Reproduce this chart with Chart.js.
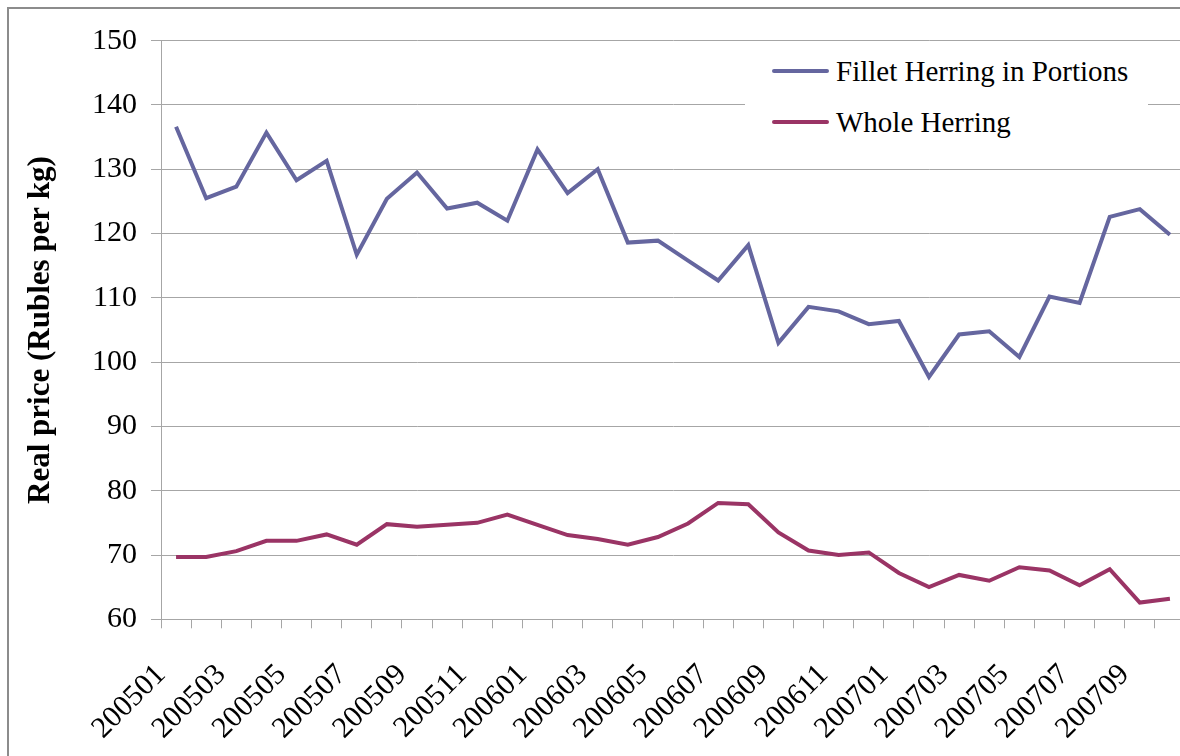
<!DOCTYPE html>
<html>
<head>
<meta charset="utf-8">
<script src="https://cdn.jsdelivr.net/npm/chart.js@4.4.0/dist/chart.umd.min.js"></script>
<style>
  html, body { margin: 0; padding: 0; overflow: hidden; background: #fff; }
  #frame { position: absolute; left: 7px; top: 7px; width: 1300px; height: 900px;
           border-left: 2px solid #8c8c8c; border-top: 2px solid #8c8c8c; }
  #box { position: absolute; left: 0; top: 0; width: 1200px; height: 756px; }
  #legend { position: absolute; left: 745px; top: 44px; width: 403px; height: 106px; background: #fff; }
  .item { position: absolute; left: 0; height: 34px; font: 29px "Liberation Serif", "Times New Roman", serif; color: #000; }
  .item .swatch { position: absolute; left: 27px; top: 15px; width: 57px; height: 4px; border-radius: 2px; }
  .item .txt { position: absolute; left: 91px; top: 0; white-space: nowrap; line-height: 34px; }
</style>
</head>
<body>
<div id="frame"></div>
<div id="box"><canvas id="grafico"></canvas></div>
<div id="legend"></div>
<script>
const categorias = [
    '200501', '200502', '200503', '200504', '200505', '200506', '200507', '200508',
    '200509', '200510', '200511', '200512', '200601', '200602', '200603', '200604',
    '200605', '200606', '200607', '200608', '200609', '200610', '200611', '200612',
    '200701', '200702', '200703', '200704', '200705', '200706', '200707', '200708',
    '200709', '200710'
];
const rotulosVisiveis = [
    '200501', '200503', '200505', '200507', '200509', '200511', '200601', '200603',
    '200605', '200607', '200609', '200611', '200701', '200703', '200705', '200707', '200709'
];
const filetePorcoes = [
    136.6, 125.5, 127.3, 135.7, 128.3, 131.3, 116.7, 125.4, 129.5, 123.9, 124.8, 122.0,
    133.1, 126.3, 130.0, 118.6, 118.9, 115.8, 112.7, 118.2, 103.0, 108.6, 107.9, 105.9,
    106.4, 97.7, 104.3, 104.8, 100.8, 110.2, 109.2, 122.6, 123.8, 119.8
];
const arenqueInteiro = [
    69.7, 69.7, 70.6, 72.2, 72.2, 73.2, 71.6, 74.8, 74.4, 74.7, 75.0, 76.3,
    74.7, 73.1, 72.5, 71.6, 72.8, 74.9, 78.1, 77.9, 73.5, 70.7, 70.0, 70.4,
    67.2, 65.0, 66.9, 66.0, 68.1, 67.6, 65.3, 67.8, 62.6, 63.2
];
const ticksY = [60, 70, 80, 90, 100, 110, 120, 130, 140, 150];

const fonte = '"Liberation Serif", "Times New Roman", serif';
const corGrade = '#a6a6a6';

const series = [
    { label: 'Fillet Herring in Portions', data: filetePorcoes, cor: '#65669f' },
    { label: 'Whole Herring', data: arenqueInteiro, cor: '#9a3465' }
];

const canvas_grafico = document.getElementById('grafico');
const ctx = canvas_grafico.getContext('2d');

new Chart(ctx, {
    type: 'line',
    data: {
        labels: categorias,
        datasets: series.map(s => ({
            label: s.label,
            data: s.data,
            borderColor: s.cor,
            backgroundColor: s.cor,
            borderWidth: 4,
            pointRadius: 0,
            tension: 0,
            fill: false,
        })),
    },
    options: {
        responsive: true,
        maintainAspectRatio: false,
        animation: false,
        layout: { padding: { left: 0, right: 15, top: 40.7, bottom: 0 } },
        plugins: {
            legend: { display: false },
            tooltip: { enabled: false },
        },
        scales: {
            x: {
                offset: true,
                grid: { drawOnChartArea: false, drawTicks: true, tickLength: 9, offset: true, color: corGrade },
                border: { color: corGrade, width: 1 },
                ticks: {
                    autoSkip: false,
                    maxRotation: 45,
                    minRotation: 45,
                    padding: 29,
                    labelOffset: -15,
                    color: '#000',
                    font: { family: fonte, size: 30 },
                    callback: function (valor, indice) {
                        const rotulo = categorias[indice];
                        return rotulosVisiveis.includes(rotulo) ? rotulo : '';
                    },
                },
                afterFit: function (escala) {
                    escala.height = 756 - 619.3;
                    escala.paddingRight = 0;
                },
            },
            y: {
                min: ticksY[0],
                max: ticksY[ticksY.length - 1],
                afterBuildTicks: function (escala) { escala.ticks = ticksY.map(v => ({ value: v })); },
                grid: { color: corGrade, tickLength: 10, drawTicks: true },
                border: { color: corGrade, width: 1 },
                ticks: {
                    padding: 14,
                    color: '#000',
                    font: { family: fonte, size: 30 },
                },
                title: {
                    display: true,
                    text: 'Real price (Rubles per kg)',
                    color: '#000',
                    font: { family: fonte, size: 31, weight: 'bold' },
                    padding: { top: 22, bottom: 0 },
                },
                afterFit: function (escala) { escala.width = 161; },
            },
        },
    },
});

// legenda em HTML, com fundo branco por cima das linhas de grade
const legenda = document.getElementById('legend');
const centros = [26.7, 78];
series.forEach((s, i) => {
    const item = document.createElement('div');
    item.className = 'item';
    item.style.top = (centros[i] - 17) + 'px';
    item.innerHTML = '<span class="swatch" style="background:' + s.cor + '"></span><span class="txt">' + s.label + '</span>';
    legenda.appendChild(item);
});
</script>
</body>
</html>
